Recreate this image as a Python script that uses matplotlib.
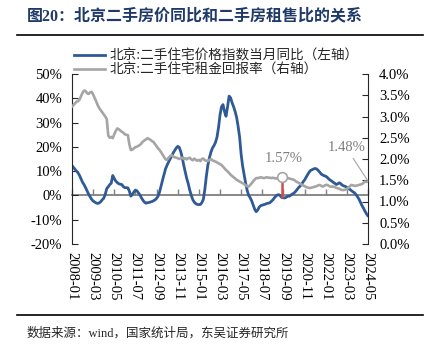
import matplotlib
matplotlib.use("Agg")
import matplotlib.pyplot as plt
import matplotlib.dates as mdates
from matplotlib.lines import Line2D
from matplotlib.ticker import FuncFormatter
import pandas as pd

plt.rcParams["font.family"] = ["Liberation Serif", "Noto Sans CJK SC"]

# monthly, 2008-01 .. 2024-05
DATES = pd.date_range("2008-01-01", "2024-05-01", freq="MS")

# 北京:二手住宅价格指数当月同比 (%), left axis
PRICE_YOY = [
    12.3, 11.5, 10.7, 10.0, 9.3, 8.2, 6.8, 5.4, 4.4, 3.2,
    1.8, 0.5, -0.6, -1.6, -2.3, -2.7, -3.1, -3.3, -3.1, -2.6,
    -1.8, -1.2, 0.5, 2.8, 3.6, 4.5, 5.0, 8.2, 7.0, 5.9,
    5.3, 4.8, 4.6, 4.5, 3.6, 3.2, 3.2, 3.1, 1.8, -0.3,
    0.4, 1.4, 2.2, 1.9, 1.0, 0.2, -1.0, -2.0, -2.8, -3.2,
    -3.0, -2.9, -2.7, -2.5, -2.2, -1.8, -1.2, -0.3, 1.5, 4.0,
    6.5, 8.8, 11.0, 12.5, 13.8, 15.0, 16.2, 17.5, 18.5, 19.5,
    20.2, 19.8, 18.0, 15.5, 12.5, 9.8, 7.0, 4.8, 2.2, 0.0,
    -1.8, -2.8, -3.4, -3.7, -3.8, -3.7, -3.0, -1.6, 2.5, 8.0,
    12.5, 15.5, 17.8, 19.5, 20.5, 21.8, 24.0, 28.0, 33.0, 36.5,
    37.4, 34.5, 32.6, 36.5, 40.9, 40.2, 38.1, 36.5, 34.5, 32.0,
    28.5, 24.0, 17.0, 12.0, 8.5, 5.0, 2.0, 0.0, -1.0, -2.3,
    -4.0, -5.8, -6.7, -6.0, -4.8, -4.2, -4.0, -3.8, -3.6, -3.3,
    -3.2, -3.0, -2.4, -1.8, -1.0, -0.3, 0.2, 0.3, -0.2, -0.9,
    -1.0, -1.0, -0.7, -0.3, -0.3, 0.2, 0.6, 1.0, 1.6, 2.4,
    3.2, 3.8, 4.6, 5.6, 6.4, 7.5, 8.6, 9.6, 10.3, 10.6,
    10.9, 11.1, 10.9, 10.3, 9.6, 8.8, 8.4, 8.1, 7.9, 7.4,
    6.8, 6.3, 5.9, 5.4, 5.0, 4.5, 4.8, 5.2, 4.8, 4.2,
    3.9, 3.7, 3.3, 2.9, 2.5, 2.0, 1.5, 1.1, 0.4, -0.5,
    -1.5, -2.8, -4.2, -5.3, -6.5, -7.6, -8.5,
]

# 北京:二手住宅租金回报率 (%), right axis
RENT_YIELD = [
    3.23, 3.27, 3.31, 3.35, 3.36, 3.40, 3.48, 3.56, 3.61, 3.60,
    3.55, 3.53, 3.57, 3.58, 3.52, 3.44, 3.36, 3.27, 3.20, 3.15,
    3.10, 3.05, 3.00, 2.94, 2.55, 2.50, 2.52, 2.49, 2.58, 2.66,
    2.72, 2.70, 2.67, 2.64, 2.62, 2.58, 2.57, 2.56, 2.35, 2.21,
    2.22, 2.25, 2.28, 2.29, 2.31, 2.33, 2.37, 2.41, 2.44, 2.46,
    2.49, 2.47, 2.45, 2.42, 2.40, 2.35, 2.30, 2.25, 2.21, 2.16,
    2.10, 2.04, 1.99, 1.98, 2.03, 2.07, 2.09, 2.06, 2.04, 2.03,
    2.02, 2.00, 2.02, 2.03, 2.00, 2.02, 1.99, 2.02, 2.03, 1.99,
    1.97, 2.01, 1.98, 1.96, 1.98, 1.95, 2.00, 2.01, 1.97, 1.96,
    1.95, 1.98, 2.00, 1.97, 1.95, 1.94, 1.92, 1.90, 1.88, 1.86,
    1.82, 1.78, 1.74, 1.71, 1.67, 1.63, 1.60, 1.57, 1.54, 1.51,
    1.49, 1.47, 1.45, 1.43, 1.41, 1.38, 1.36, 1.35, 1.39, 1.43,
    1.48, 1.52, 1.55, 1.55, 1.56, 1.57, 1.56, 1.55, 1.56, 1.57,
    1.56, 1.56, 1.55, 1.56, 1.55, 1.54, 1.55, 1.56, 1.56, 1.57,
    1.57, 1.56, 1.55, 1.55, 1.54, 1.53, 1.52, 1.51, 1.48, 1.46,
    1.44, 1.42, 1.40, 1.38, 1.36, 1.34, 1.33, 1.32, 1.32, 1.33,
    1.34, 1.35, 1.36, 1.38, 1.39, 1.37, 1.35, 1.37, 1.39, 1.39,
    1.37, 1.35, 1.35, 1.35, 1.34, 1.32, 1.31, 1.30, 1.28, 1.27,
    1.27, 1.28, 1.30, 1.32, 1.36, 1.39, 1.38, 1.37, 1.37, 1.38,
    1.39, 1.40, 1.41, 1.44, 1.47, 1.46, 1.48,
]

XTICKS = DATES[::14]
LEFT_TICKS = list(range(-20, 51, 10))
RIGHT_TICKS = [i * 0.5 for i in range(9)]
LABELS = ["北京:二手住宅价格指数当月同比（左轴）", "北京:二手住宅租金回报率（右轴）"]
MARK_DATE = "2019-08-01"

BLUE = "#2F5A96"
GRAY = "#A5A5A5"
GRAY_T = "#7F7F7F"
RED = "#C9504A"
NAVY = "#1F3A68"
W, H = 431, 352

fig = plt.figure(figsize=(W / 100, H / 100), dpi=100)
ax = fig.add_axes([72 / W, 1 - 244 / H, (368 - 72) / W, (244 - 74) / H])
ax2 = ax.twinx()

ax.plot(DATES, PRICE_YOY, color=BLUE, lw=2.0, solid_capstyle="round")
ax2.plot(DATES, RENT_YIELD, color=GRAY, lw=1.9, solid_capstyle="round")

ax.set_xlim(DATES[0], DATES[-1])
ax.set_ylim(-20, 50)
ax2.set_ylim(0, 4)

for a in (ax, ax2):
    for s in ("top", "bottom"):
        a.spines[s].set_visible(False)
ax.spines["right"].set_visible(False)
ax2.spines["left"].set_visible(False)
ax.spines["left"].set_color("#262626")
ax2.spines["right"].set_color("#262626")

ax.set_yticks(LEFT_TICKS)
ax.yaxis.set_major_formatter(FuncFormatter(lambda v, p: f"{v:.0f}%"))
ax2.set_yticks(RIGHT_TICKS)
ax2.yaxis.set_major_formatter(FuncFormatter(lambda v, p: f"{v:.1f}%"))
ax.tick_params(axis="y", direction="in", length=4, color="#262626", labelsize=10.5, pad=7)
ax2.tick_params(axis="y", direction="in", length=4, color="#262626", labelsize=10.5, pad=8)

ax.set_xticks(XTICKS)
ax.set_xticklabels([d.strftime("%Y-%m") for d in XTICKS], rotation=-90)
ax.tick_params(axis="x", length=0, labelsize=10.5, pad=6)

# zero line with upward ticks
ylo, yhi = ax.get_ylim()
zero = ax.secondary_xaxis((0 - ylo) / (yhi - ylo))
zero.set_xticks(mdates.date2num(XTICKS))
zero.tick_params(direction="in", length=4, width=1, color=GRAY_T, labelbottom=False)
zero.spines["bottom"].set_color(GRAY_T)
zero.spines["bottom"].set_linewidth(1.3)

# highlighted point
i = list(DATES).index(pd.Timestamp(MARK_DATE))
lo2, hi2 = ax2.get_ylim()
blue_r = lo2 + (PRICE_YOY[i] - ylo) / (yhi - ylo) * (hi2 - lo2)
ax2.vlines(DATES[i], blue_r, RENT_YIELD[i], color=RED, lw=1.8, zorder=4)
ax2.plot(DATES[i], RENT_YIELD[i], "o", ms=7, mfc="white", mec=GRAY, mew=1.2, zorder=5)
ax2.text(DATES[i + 1], 2.02, f"{RENT_YIELD[i]:.2f}%", ha="center", va="center",
         color=GRAY_T, fontsize=10.5)
ax2.annotate(f"{RENT_YIELD[-1]:.2f}%", xy=(DATES[-1], RENT_YIELD[-1]),
             xytext=(DATES[-15], 2.26), ha="center", va="center", color=GRAY_T, fontsize=10.5,
             arrowprops=dict(arrowstyle="-", color=GRAY, lw=0.8, relpos=(0.6, 0),
                             shrinkA=1, shrinkB=0))

handles = [Line2D([], [], color=BLUE, lw=2.0), Line2D([], [], color=GRAY, lw=1.9)]
fig.legend(handles, LABELS, loc="upper left", bbox_to_anchor=(74 / W, 1 - 49 / H),
           frameon=False, fontsize=9.8, handlelength=2.3, handletextpad=0.3,
           labelspacing=0.08, borderpad=0, borderaxespad=0, labelcolor="#262626")

fig.text(27 / W, 1 - 16 / H, "图20：北京二手房价同比和二手房租售比的关系",
         fontsize=11.5, weight="bold", color=NAVY, va="center")
fig.add_artist(Line2D([17 / W, 423 / W], [1 - 35 / H] * 2, color="k", lw=1.2))
fig.add_artist(Line2D([17 / W, 423 / W], [1 - 315 / H] * 2, color="k", lw=1.2))
fig.text(27 / W, 1 - 333 / H, "数据来源：wind，国家统计局，东吴证券研究所",
         fontsize=9, color="#262626", va="center")

fig.savefig("out.png", dpi=100)
